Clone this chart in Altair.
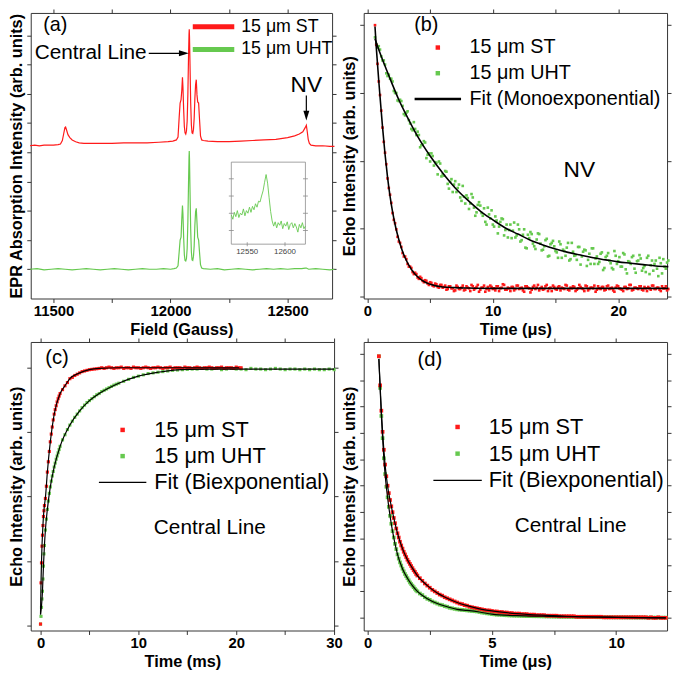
import altair as alt
import pandas as pd

FONT = "Liberation Sans"
RED = "#ff1a1a"
GREEN = "#66c94f"
INK = "#333333"
GRAY = "#8a8a8a"
ST = "15 μm ST"
UHT = "15 μm UHT"
FIT_MONO = "Fit (Monoexponential)"
FIT_BI = "Fit (Biexponential)"


def sample_times(start, step, n):
    return [round(start + step * i, 4) for i in range(n)]


# ---------------- (a) EPR absorption spectra ----------------
a_field_st = [11400, 11420, 11440, 11460, 11480, 11500, 11520, 11530, 11538, 11544,
              11549, 11552, 11556, 11562, 11570, 11580, 11595, 11610, 11630, 11660,
              11700, 11750, 11800, 11850, 11900, 11950, 11990, 12010, 12025, 12032,
              12037, 12041, 12045, 12048, 12051, 12053, 12056, 12059, 12062, 12065,
              12068, 12071, 12074, 12077, 12079, 12080, 12081, 12083, 12086, 12089,
              12092, 12095, 12098, 12101, 12104, 12107, 12110, 12113, 12116, 12120,
              12124, 12128, 12133, 12140, 12160, 12200, 12250, 12300, 12350, 12400,
              12450, 12500, 12530, 12550, 12565, 12575, 12580, 12584, 12588, 12593,
              12600, 12620, 12650, 12680, 12700]
a_int_st = [2.11, 2.12, 2.11, 2.12, 2.12, 2.12, 2.13, 2.14, 2.20, 2.32,
            2.42, 2.43, 2.38, 2.30, 2.25, 2.21, 2.18, 2.16, 2.15, 2.15,
            2.15, 2.15, 2.16, 2.16, 2.16, 2.17, 2.18, 2.19, 2.21, 2.26,
            2.60, 2.84, 2.90, 3.05, 3.28, 3.12, 2.74, 2.44, 2.33, 2.31,
            2.36, 2.53, 2.98, 3.66, 4.02, 4.10, 3.98, 3.55, 2.86, 2.47,
            2.33, 2.32, 2.39, 2.58, 2.92, 3.15, 3.24, 2.98, 2.86, 2.84,
            2.55, 2.28, 2.21, 2.20, 2.19, 2.18, 2.18, 2.19, 2.20, 2.21,
            2.22, 2.25, 2.28, 2.31, 2.35, 2.42, 2.46, 2.35, 2.22, 2.15,
            2.12, 2.11, 2.11, 2.10, 2.10]
a_field_uht = [11400, 11430, 11460, 11490, 11520, 11550, 11580, 11610, 11640, 11670,
               11700, 11730, 11760, 11790, 11820, 11850, 11880, 11910, 11940, 11970,
               12000, 12015, 12025, 12032, 12037, 12041, 12045, 12048, 12051, 12053,
               12056, 12059, 12062, 12065, 12068, 12071, 12074, 12077, 12079, 12080,
               12081, 12083, 12086, 12089, 12092, 12095, 12098, 12101, 12104, 12107,
               12110, 12113, 12116, 12120, 12124, 12128, 12133, 12140, 12170, 12200,
               12230, 12260, 12290, 12320, 12350, 12380, 12410, 12440, 12470, 12500,
               12530, 12560, 12575, 12580, 12590, 12620, 12650, 12680, 12700]
a_int_uht = [0.00, 0.01, -0.01, 0.00, 0.01, 0.00, -0.01, 0.00, 0.01, 0.00,
             -0.01, 0.00, 0.01, 0.00, -0.01, 0.00, 0.01, 0.00, 0.00, 0.01,
             0.00, 0.01, 0.02, 0.06, 0.30, 0.50, 0.55, 0.85, 1.09, 0.95,
             0.55, 0.25, 0.15, 0.14, 0.18, 0.35, 0.80, 1.50, 1.92, 2.02,
             1.90, 1.40, 0.70, 0.30, 0.16, 0.15, 0.22, 0.40, 0.75, 0.98,
             1.04, 0.80, 0.55, 0.50, 0.28, 0.08, 0.02, 0.01, 0.00, 0.01,
             -0.01, 0.00, 0.01, 0.00, -0.01, 0.00, 0.01, 0.00, 0.01, 0.00,
             0.01, 0.01, 0.02, 0.02, 0.00, 0.01, 0.00, -0.01, 0.00]
inset_start, inset_step = 12529, 2
inset_int = [1.70, 1.45, 1.85, 1.60, 1.95, 1.55, 1.80, 1.70, 2.05, 1.65,
             1.95, 1.80, 2.15, 1.85, 2.20, 2.00, 2.35, 2.15, 2.50, 2.45,
             2.80, 3.10, 3.60, 4.05, 3.55, 2.70, 1.90, 1.35, 1.05, 1.30,
             0.95, 1.25, 1.10, 1.35, 0.90, 1.20, 1.05, 1.30, 0.85, 1.15,
             1.25, 0.95, 1.20, 1.00, 0.70, 1.15, 0.95, 1.25, 0.90, 1.05]
inset_domain_x = [12529, 12627]
inset_domain_y = [0, 4.77]
inset_xticks = [12550, 12600]
inset_xlabels = ["12550", "12600"]
inset_yticks = [0.8, 1.8, 2.8, 3.8]

# ---------------- (b) NV echo decay ----------------
b_start, b_step = 0.6, 0.2
b_st = [4.00, 3.43, 2.97, 2.49, 2.12, 1.74, 1.50, 1.23, 1.08, 0.88,
        0.79, 0.64, 0.59, 0.48, 0.44, 0.36, 0.35, 0.28, 0.29, 0.23,
        0.24, 0.19, 0.21, 0.16, 0.19, 0.14, 0.17, 0.13, 0.16, 0.11,
        0.15, 0.12, 0.09, 0.14, 0.11, 0.16, 0.10, 0.13,
        0.08, 0.15, 0.12, 0.17, 0.10, 0.13, 0.07, 0.14, 0.16, 0.11,
        0.09, 0.15, 0.12, 0.18, 0.10, 0.13, 0.08, 0.14, 0.11, 0.16,
        0.12, 0.09, 0.15, 0.13, 0.06, 0.14, 0.11, 0.17, 0.12, 0.10,
        0.15, 0.08, 0.13, 0.16, 0.11, 0.14, 0.09, 0.12, 0.17, 0.10,
        0.13, 0.15, 0.08, 0.12, 0.14, 0.11, 0.16, 0.09, 0.13, 0.12,
        0.07, 0.15, 0.11, 0.14, 0.10, 0.16, 0.12, 0.09, 0.13, 0.15,
        0.11, 0.08, 0.14, 0.12, 0.17, 0.10, 0.13, 0.11, 0.15, 0.09,
        0.12, 0.14, 0.10, 0.16, 0.11, 0.13, 0.08, 0.12, 0.15, 0.11]
b_uht = [3.82, 3.67, 3.64, 3.48, 3.42, 3.25, 3.21, 3.17, 3.00, 2.89,
         2.90, 2.81, 2.67, 2.73, 2.55, 2.45, 2.47, 2.43, 2.20, 2.24,
         2.27, 2.09, 1.99, 2.07, 1.98, 1.80, 1.96, 1.80, 1.85, 1.66,
         1.69, 1.54, 1.70, 1.60, 1.46, 1.63, 1.37, 1.45, 1.37, 1.46,
         1.19, 1.35, 1.34, 1.19, 1.10, 1.31, 1.15, 1.06, 1.18, 0.93,
         1.10, 1.14, 0.98, 0.87, 1.06, 0.97, 0.87, 1.06, 0.81, 0.91,
         0.72, 0.91, 0.95, 0.78, 0.70, 0.93, 0.78, 0.69, 0.83, 0.59,
         0.77, 0.82, 0.67, 0.57, 0.77, 0.69, 0.60, 0.79, 0.55, 0.66,
         0.61, 0.73, 0.47, 0.66, 0.68, 0.54, 0.48, 0.71, 0.56, 0.48,
         0.63, 0.39, 0.58, 0.64, 0.49, 0.40, 0.60, 0.52, 0.44, 0.64,
         0.40, 0.52, 0.48, 0.60, 0.35, 0.53, 0.56, 0.42, 0.36, 0.60,
         0.46, 0.38, 0.53, 0.30, 0.49, 0.55, 0.41, 0.53]
# interleaved second pass of acquisitions (t = 0.7, 0.9, ...)
b_start2 = 0.7
b_st2 = [3.71, 3.17, 2.74, 2.28, 1.95, 1.60, 1.38, 1.13, 0.99, 0.81,
         0.73, 0.59, 0.55, 0.44, 0.42, 0.33, 0.33, 0.26, 0.27, 0.21,
         0.23, 0.17, 0.20, 0.15, 0.18, 0.13, 0.17,
         0.14, 0.10, 0.15, 0.12, 0.08, 0.16, 0.11, 0.13, 0.09, 0.15,
         0.12, 0.17, 0.10, 0.14, 0.07, 0.13, 0.16, 0.11, 0.09, 0.14,
         0.12, 0.15, 0.08, 0.13, 0.17, 0.10, 0.12, 0.14, 0.09, 0.16,
         0.11, 0.13, 0.07, 0.15, 0.12, 0.10, 0.16, 0.13, 0.09, 0.14,
         0.11, 0.17, 0.12, 0.08, 0.14, 0.10, 0.15, 0.13, 0.11, 0.16,
         0.09, 0.12, 0.14, 0.10, 0.17, 0.12, 0.08, 0.15, 0.11, 0.13,
         0.16, 0.10, 0.12, 0.14, 0.09, 0.15, 0.11, 0.13, 0.07, 0.16,
         0.12, 0.10, 0.14, 0.11, 0.17, 0.09, 0.13, 0.12, 0.15, 0.10,
         0.14, 0.08, 0.12, 0.16, 0.11, 0.13, 0.10, 0.15, 0.12, 0.09]
b_uht2 = [3.72, 3.69, 3.54, 3.48, 3.29, 3.27, 3.21, 3.03, 3.00, 2.88,
          2.88, 2.69, 2.71, 2.60, 2.47, 2.57, 2.38, 2.38, 2.23, 2.29,
          2.04, 2.11, 2.11, 1.93, 1.97, 1.99, 1.77, 1.78, 1.84, 1.59,
          1.73, 1.65, 1.54, 1.65, 1.41, 1.47, 1.49, 1.29, 1.51, 1.31,
          1.24, 1.39, 1.23, 1.30, 1.06, 1.21, 1.27, 1.03, 1.12, 1.03,
          1.15, 0.90, 1.06, 0.98, 0.86, 1.09, 0.90, 0.99, 0.83, 0.99,
          0.71, 0.86, 0.92, 0.74, 0.84, 0.92, 0.68, 0.74, 0.85, 0.60,
          0.79, 0.74, 0.65, 0.81, 0.57, 0.67, 0.72, 0.53, 0.79, 0.60,
          0.54, 0.73, 0.59, 0.69, 0.45, 0.63, 0.71, 0.48, 0.59, 0.51,
          0.65, 0.42, 0.60, 0.53, 0.42, 0.67, 0.48, 0.58, 0.44, 0.62,
          0.34, 0.51, 0.58, 0.41, 0.52, 0.61, 0.38, 0.45, 0.57, 0.33,
          0.53, 0.48, 0.41, 0.57, 0.34, 0.44, 0.50]
b_fit_st_t = [0.6, 0.7, 0.8, 0.9, 1.0, 1.2, 1.4, 1.6, 1.8, 2.0, 2.25, 2.5, 2.75,
              3.0, 3.5, 4.0, 4.5, 5.0, 6.0, 7.0, 8.0, 10, 12, 16, 20, 24]
b_fit_st = [3.98, 3.68, 3.43, 3.18, 2.95, 2.50, 2.10, 1.76, 1.48, 1.25, 1.02, 0.84, 0.69,
            0.57, 0.40, 0.29, 0.22, 0.18, 0.14, 0.13, 0.125, 0.12, 0.12, 0.12, 0.12, 0.12]
b_fit_uht_t = [0.6, 1, 1.5, 2, 2.5, 3, 3.5, 4, 5, 6, 7, 8, 9, 10, 11, 12, 13, 14,
               15, 16, 17, 18, 19, 20, 21, 22, 23, 24]
b_fit_uht = [3.80, 3.59, 3.35, 3.12, 2.90, 2.71, 2.53, 2.36, 2.07, 1.82, 1.60, 1.42,
             1.26, 1.13, 1.01, 0.92, 0.83, 0.76, 0.70, 0.65, 0.61, 0.57, 0.54, 0.51,
             0.49, 0.47, 0.45, 0.44]

# ---------------- (c) central line recovery (ms) ----------------
c_st_segments = [
    (0.0, 0.05, [0.02, 0.66, 0.97, 1.23, 1.40, 1.55, 1.69, 1.78, 1.86]),
    (0.5, 0.1, [1.97, 2.16, 2.38, 2.54, 2.70, 2.85, 2.97, 3.08, 3.19, 3.28,
                3.35, 3.41, 3.47, 3.52, 3.56, 3.60]),
    (2.25, 0.25, [3.66, 3.72, 3.77, 3.83, 3.85, 3.88, 3.90, 3.92, 3.94, 3.95,
                  3.96, 3.97, 3.975, 3.98, 3.985, 3.99]),
    (6.25, 0.25, [4.00, 3.99, 4.00, 4.01, 4.00, 3.99, 4.00, 4.00, 4.01, 3.99,
                  4.00, 4.00, 3.99, 4.01, 4.00, 4.00, 3.99, 4.00, 4.01, 4.00,
                  3.99, 4.00, 4.00, 4.01, 4.00, 3.99, 4.00, 4.00, 4.01, 3.99,
                  4.00, 4.00, 4.00, 3.99, 4.01, 4.00, 4.00, 3.99, 4.00, 4.01,
                  4.00, 3.99, 4.00, 4.00, 4.01, 4.00, 3.99, 4.00, 4.00, 4.01,
                  3.99, 4.00, 4.00, 4.00, 3.99, 4.01, 4.00, 4.00]),
]
c_uht_segments = [
    (0.0, 0.05, [0.02, 0.14, 0.28, 0.41, 0.53, 0.72, 0.92, 1.11, 1.24]),
    (0.5, 0.1, [1.48, 1.65, 1.80, 1.93, 2.05, 2.15, 2.24, 2.32, 2.39, 2.46,
                2.52, 2.58, 2.63, 2.68, 2.73, 2.78]),
    (2.25, 0.25, [2.88, 2.96, 3.04, 3.11, 3.17, 3.23, 3.28, 3.33, 3.38, 3.42,
                  3.46, 3.49, 3.52, 3.55, 3.58, 3.60, 3.63, 3.65, 3.67, 3.69,
                  3.71, 3.73, 3.745, 3.76]),
    (8.5, 0.5, [3.79, 3.82, 3.85, 3.87, 3.89, 3.91, 3.92, 3.93, 3.94, 3.95,
                3.96, 3.965, 3.97, 3.975, 3.98, 3.98, 3.99, 3.98, 3.98, 3.99,
                3.97, 3.98, 3.99, 3.98, 3.98, 3.97, 3.99, 3.98, 3.98, 3.97,
                3.98, 3.99, 3.98, 3.97, 3.98, 3.98, 3.97, 3.98, 3.97, 3.98,
                3.97, 3.97, 3.98, 3.97]),
]
c_fit_st_t = [0, 0.03, 0.06, 0.1, 0.15, 0.2, 0.3, 0.4, 0.5, 0.7, 1.0, 1.4, 2.0, 2.5,
              3.0, 4.0, 5.0, 6.0, 8.0, 12.0, 16.0, 20.3]
c_fit_st = [0.17, 0.45, 0.72, 0.97, 1.23, 1.40, 1.69, 1.86, 1.98, 2.38, 2.85, 3.28,
            3.60, 3.72, 3.83, 3.92, 3.97, 3.99, 4.00, 4.00, 4.00, 4.00]
c_fit_uht_t = [0, 0.1, 0.2, 0.3, 0.4, 0.5, 0.7, 1.0, 1.4, 2.0, 3.0, 4.0, 5.0, 6.0,
               8.0, 10.0, 12.0, 15.0, 20.0, 25.0, 30.0]
c_fit_uht = [0.17, 0.30, 0.53, 0.92, 1.24, 1.48, 1.80, 2.15, 2.46, 2.78, 3.11, 3.33,
             3.49, 3.60, 3.76, 3.87, 3.93, 3.975, 3.98, 3.98, 3.98]

# ---------------- (d) central line decay (us) ----------------
d_st_segments = [
    (0.45, 0.05, [4.95, 4.40, 3.92, 3.52, 3.18, 2.90, 2.68, 2.50, 2.36, 2.23,
                  2.11, 2.00, 1.89, 1.79, 1.69, 1.60, 1.52, 1.44, 1.37, 1.31,
                  1.25, 1.20, 1.15, 1.10, 1.06, 1.02, 0.98, 0.94, 0.90, 0.87,
                  0.83, 0.80]),
    (2.1, 0.1, [0.75, 0.70, 0.65, 0.61, 0.57, 0.53, 0.50, 0.47, 0.44, 0.42,
                0.39, 0.37, 0.35, 0.33, 0.31, 0.29, 0.27, 0.26, 0.24, 0.23,
                0.21, 0.20, 0.19, 0.18, 0.17, 0.16, 0.15, 0.14, 0.14, 0.13,
                0.12, 0.12, 0.11, 0.11, 0.10, 0.10, 0.09, 0.09, 0.08, 0.08,
                0.08, 0.07, 0.07, 0.07, 0.06, 0.06, 0.06, 0.05, 0.05, 0.05,
                0.05, 0.04, 0.04, 0.04, 0.04, 0.04, 0.03, 0.03, 0.03, 0.03,
                0.03, 0.03, 0.03, 0.02, 0.02, 0.02, 0.02, 0.02, 0.02, 0.02,
                0.02, 0.02, 0.02, 0.02, 0.01, 0.01, 0.01, 0.01, 0.01, 0.01,
                0.01, 0.01, 0.01, 0.01, 0.01, 0.01, 0.01, 0.01, 0.01, 0.01,
                0.01, 0.01, 0.00, 0.01, 0.00, 0.00, 0.01, 0.00, 0.00, 0.00]),
]
d_uht_segments = [
    (0.45, 0.05, [4.95, 4.35, 3.82, 3.40, 3.02, 2.72, 2.48, 2.28, 2.10, 1.93,
                  1.78, 1.64, 1.52, 1.40, 1.30, 1.20, 1.12, 1.05, 0.99, 0.93,
                  0.88, 0.83, 0.79, 0.75, 0.71, 0.67, 0.64, 0.61, 0.58, 0.55,
                  0.52, 0.50]),
    (2.1, 0.1, [0.46, 0.43, 0.39, 0.36, 0.34, 0.31, 0.29, 0.27, 0.25, 0.24,
                0.22, 0.21, 0.19, 0.18, 0.17, 0.16, 0.155, 0.15, 0.145, 0.14,
                0.135, 0.13, 0.125, 0.12, 0.11, 0.10, 0.095, 0.085, 0.08, 0.07,
                0.065, 0.06, 0.058, 0.055, 0.05, 0.048, 0.045, 0.043, 0.041, 0.04,
                0.038, 0.036, 0.035, 0.033, 0.032, 0.031, 0.030, 0.030, 0.029, 0.028,
                0.027, 0.026, 0.025, 0.024, 0.023, 0.022, 0.021, 0.020, 0.020, 0.019,
                0.018, 0.018, 0.017, 0.016, 0.016, 0.015, 0.015, 0.014, 0.014, 0.013,
                0.013, 0.012, 0.012, 0.011, 0.011, 0.010, 0.010, 0.010, 0.009, 0.009,
                0.009, 0.008, 0.008, 0.008, 0.007, 0.007, 0.007, 0.006, 0.006, 0.006,
                0.006, 0.005, 0.005, 0.005, 0.005, 0.004, 0.004, 0.004, 0.004, 0.004]),
]
d_fit_t = [0.45, 0.5, 0.55, 0.6, 0.65, 0.7, 0.8, 0.9, 1.0, 1.2, 1.4, 1.6, 1.8, 2.0,
           2.4, 2.8, 3.2, 3.6, 4.0, 4.5, 5.0, 6.0, 7.0, 8.0, 10.0, 12.0]
d_fit_st = [4.90, 4.40, 3.92, 3.52, 3.18, 2.90, 2.50, 2.23, 2.00, 1.60, 1.31, 1.10,
            0.94, 0.80, 0.61, 0.47, 0.37, 0.29, 0.23, 0.17, 0.13, 0.08, 0.05, 0.03,
            0.01, 0.00]
d_fit_uht = [4.90, 4.35, 3.82, 3.40, 3.02, 2.72, 2.28, 1.93, 1.64, 1.20, 0.93, 0.75,
             0.61, 0.50, 0.36, 0.27, 0.21, 0.16, 0.14, 0.11, 0.07, 0.04, 0.03, 0.02,
             0.01, 0.00]

# ---------------- layout constants ----------------
W_A, W_OTHER = 305, 307
H_TOP, H_BOT = 289, 292
IN_X0, IN_X1, IN_Y0, IN_Y1 = 203, 278, 151, 234


def frame_axes(xticks, label_every, xtitle, yticks, ytitle, xfmt="~g"):
    bottom = alt.Axis(orient="bottom", values=xticks, format=xfmt, title=xtitle,
                      labelExpr=f"datum.value % {label_every} === 0 ? datum.label : ''")
    top = alt.Axis(orient="top", values=xticks, labels=False, title=None)
    left = alt.Axis(orient="left", values=yticks, labels=False, title=ytitle, titlePadding=2)
    right = alt.Axis(orient="right", values=yticks, labels=False, title=None)
    return bottom, top, left, right


def seg_frame(segments, name):
    t, v = [], []
    for start, step, vals in segments:
        t += sample_times(start, step, len(vals))
        v += vals
    return pd.DataFrame({"time": t, "intensity": v, "sample": name})


def line_legend(x, y, size, offset, rowpad, half, sw):
    return alt.Legend(title=None, orient="none", legendX=x, legendY=y, padding=0,
                      labelFont=FONT, labelFontSize=size, labelColor="black",
                      labelOffset=offset, rowPadding=rowpad, symbolSize=100,
                      symbolType=f"M-{half},0H{half}", symbolStrokeWidth=sw,
                      labelLimit=500)


def data_fit_legend(fit_name, x, y, size, offset, rowpad, half, sw):
    line_path = f"M-{half},0H{half}"
    square = "M-0.45,-0.45H0.45V0.45H-0.45Z"
    return alt.Legend(
        title=None, orient="none", legendX=x, legendY=y, padding=0,
        labelFont=FONT, labelFontSize=size, labelColor="black", labelOffset=offset,
        rowPadding=rowpad, symbolSize=100, labelLimit=500, symbolStrokeWidth=sw,
        symbolType={"expr": f"datum.value === '{fit_name}' ? '{line_path}' : '{square}'"},
        symbolStrokeColor={"expr": f"datum.value === '{fit_name}' ? 'black' : 'transparent'"},
    )


def notes_layer(df, xs, ys, xfield, yfield, size):
    return alt.Chart(df).mark_text(font=FONT, fontSize=size, color="black",
                                   align="center", baseline="middle").encode(
        x=alt.X(f"{xfield}:Q", scale=xs, axis=None),
        y=alt.Y(f"{yfield}:Q", scale=ys, axis=None),
        text="text:N")


# ================= panel (a) =================
df_a = pd.DataFrame({
    "field": a_field_st + a_field_uht,
    "intensity": a_int_st + a_int_uht,
    "sample": [ST] * len(a_field_st) + [UHT] * len(a_field_uht),
})
xs_a = alt.Scale(domain=[11403, 12690], nice=False, zero=False)
ys_a = alt.Scale(domain=[-0.5, 4.38], nice=False, zero=False)
xb, xt, yl, yr = frame_axes([11500, 11750, 12000, 12250, 12500], 500, "Field (Gauss)",
                            [0, 0.5, 1, 1.5, 2, 2.5, 3, 3.5, 4],
                            "EPR Absorption Intensity (arb. units)", xfmt="d")
spectra = alt.Chart(df_a).mark_line(strokeWidth=1.2).encode(
    x=alt.X("field:Q", scale=xs_a, axis=xb),
    y=alt.Y("intensity:Q", scale=ys_a, axis=yl),
    color=alt.Color("sample:N", scale=alt.Scale(domain=[ST, UHT], range=[RED, GREEN]),
                    legend=line_legend(176, 5, 18, 19, 3, 4.2, 5)),
)
mirror_a = alt.Chart(df_a).mark_point(opacity=0).encode(
    x=alt.X("field:Q", scale=xs_a, axis=xt), y=alt.Y("intensity:Q", scale=ys_a, axis=yr))
a_notes = pd.DataFrame({"field": [11508], "intensity": [4.18], "text": ["(a)"]})
a_notes2 = pd.DataFrame({"field": [11659], "intensity": [3.69], "text": ["Central Line"]})
a_notes3 = pd.DataFrame({"field": [12580], "intensity": [3.15], "text": ["NV"]})
a_arrows = pd.DataFrame({"x0": [11907, 12580], "x1": [12047, 12580],
                         "y0": [3.69, 2.97], "y1": [3.69, 2.63]})
arrow_rules = alt.Chart(a_arrows).mark_rule(color="black", strokeWidth=1.2).encode(
    x=alt.X("x0:Q", scale=xs_a, axis=None), x2="x1:Q",
    y=alt.Y("y0:Q", scale=ys_a, axis=None), y2="y1:Q")
head_r = alt.Chart(pd.DataFrame({"x": [12057], "y": [3.69]})).mark_point(
    shape="M-1,-0.6L1,0L-1,0.6Z", filled=True, size=100, color="black", opacity=1).encode(
    x=alt.X("x:Q", scale=xs_a, axis=None), y=alt.Y("y:Q", scale=ys_a, axis=None))
head_d = alt.Chart(pd.DataFrame({"x": [12580], "y": [2.625]})).mark_point(
    shape="M-0.6,-1L0,1L0.6,-1Z", filled=True, size=100, color="black", opacity=1).encode(
    x=alt.X("x:Q", scale=xs_a, axis=None), y=alt.Y("y:Q", scale=ys_a, axis=None))
main_a = alt.layer(
    spectra, mirror_a, arrow_rules, head_r, head_d,
    notes_layer(a_notes, xs_a, ys_a, "field", "intensity", 20),
    notes_layer(a_notes2, xs_a, ys_a, "field", "intensity", 21),
    notes_layer(a_notes3, xs_a, ys_a, "field", "intensity", 23),
)

# ---- inset (own scales placed inside panel a) ----
df_in = pd.DataFrame({"field": sample_times(inset_start, inset_step, len(inset_int)),
                      "intensity": inset_int})
xs_in = alt.Scale(domain=inset_domain_x, range=[IN_X0, IN_X1], nice=False, zero=False)
ys_in = alt.Scale(domain=inset_domain_y, range=[IN_Y1, IN_Y0], nice=False, zero=False)
in_box = pd.DataFrame({"x0": [inset_domain_x[0]], "x1": [inset_domain_x[1]],
                       "y0": [inset_domain_y[0]], "y1": [inset_domain_y[1]]})
in_rect = alt.Chart(in_box).mark_rect(fill="white", stroke=GRAY, strokeWidth=0.8).encode(
    x=alt.X("x0:Q", scale=xs_in, axis=None), x2="x1:Q",
    y=alt.Y("y0:Q", scale=ys_in, axis=None), y2="y1:Q")
in_line = alt.Chart(df_in).mark_line(color=GREEN, strokeWidth=0.9).encode(
    x=alt.X("field:Q", scale=xs_in, axis=None),
    y=alt.Y("intensity:Q", scale=ys_in, axis=None))
df_in_xt = pd.DataFrame({"field": inset_xticks, "base": [inset_domain_y[0]] * len(inset_xticks),
                         "label": inset_xlabels})
in_xticks = alt.Chart(df_in_xt).mark_tick(orient="vertical", size=4, thickness=0.8,
                                          color=GRAY, opacity=1).encode(
    x=alt.X("field:Q", scale=xs_in, axis=None), y=alt.Y("base:Q", scale=ys_in, axis=None))
in_xlabels = alt.Chart(df_in_xt).mark_text(font=FONT, fontSize=8, color="#444444",
                                           baseline="top", dy=4).encode(
    x=alt.X("field:Q", scale=xs_in, axis=None), y=alt.Y("base:Q", scale=ys_in, axis=None),
    text="label:N")
df_in_yt = pd.DataFrame({
    "edge": [inset_domain_x[0]] * len(inset_yticks) + [inset_domain_x[1]] * len(inset_yticks),
    "value": inset_yticks + inset_yticks})
in_yticks = alt.Chart(df_in_yt).mark_tick(orient="horizontal", size=5, thickness=0.8,
                                          color=GRAY, opacity=1).encode(
    x=alt.X("edge:Q", scale=xs_in, axis=None), y=alt.Y("value:Q", scale=ys_in, axis=None))
inset_a = alt.layer(in_rect, in_line, in_xticks, in_yticks, in_xlabels)
panel_a = alt.layer(main_a, inset_a).resolve_scale(
    x="independent", y="independent").properties(width=W_A, height=H_TOP)

# ================= panel (b) =================
df_b = pd.concat([
    pd.DataFrame({"time": sample_times(b_start, b_step, len(b_uht)), "intensity": b_uht,
                  "sample": UHT}),
    pd.DataFrame({"time": sample_times(b_start2, b_step, len(b_uht2)), "intensity": b_uht2,
                  "sample": UHT}),
    pd.DataFrame({"time": sample_times(b_start, b_step, len(b_st)), "intensity": b_st,
                  "sample": ST}),
    pd.DataFrame({"time": sample_times(b_start2, b_step, len(b_st2)), "intensity": b_st2,
                  "sample": ST}),
])
df_b_fit = pd.DataFrame({"time": b_fit_st_t + b_fit_uht_t, "intensity": b_fit_st + b_fit_uht,
                         "curve": ["st"] * len(b_fit_st) + ["uht"] * len(b_fit_uht)})
xs_b = alt.Scale(domain=[-0.3, 23.9], nice=False, zero=False)
ys_b = alt.Scale(domain=[-0.03, 4.18], nice=False, zero=False)
xb, xt, yl, yr = frame_axes([0, 5, 10, 15, 20], 10, "Time (μs)", [0, 1, 2, 3, 4],
                            "Echo Intensity (arb. units)")
pts_b = alt.Chart(df_b).mark_square(size=7, opacity=1).encode(
    x=alt.X("time:Q", scale=xs_b, axis=xb),
    y=alt.Y("intensity:Q", scale=ys_b, axis=yl),
    color=alt.Color("sample:N",
                    scale=alt.Scale(domain=[ST, UHT, FIT_MONO], range=[RED, GREEN, "black"]),
                    legend=data_fit_legend(FIT_MONO, 65, 25, 20, 22, 6, 4.7, 2.5)),
)
fit_b = alt.Chart(df_b_fit).mark_line(color="black", strokeWidth=1.6, interpolate="monotone").encode(
    x=alt.X("time:Q", scale=xs_b, axis=None), y=alt.Y("intensity:Q", scale=ys_b, axis=None),
    detail="curve:N")
mirror_b = alt.Chart(df_b_fit).mark_point(opacity=0).encode(
    x=alt.X("time:Q", scale=xs_b, axis=xt), y=alt.Y("intensity:Q", scale=ys_b, axis=yr))
b_notes = pd.DataFrame({"time": [4.69], "intensity": [4.0], "text": ["(b)"]})
b_notes2 = pd.DataFrame({"time": [16.9], "intensity": [1.87], "text": ["NV"]})
panel_b = alt.layer(
    pts_b, fit_b, mirror_b,
    notes_layer(b_notes, xs_b, ys_b, "time", "intensity", 20),
    notes_layer(b_notes2, xs_b, ys_b, "time", "intensity", 23),
).properties(width=W_OTHER, height=H_TOP)

# ================= panel (c) =================
df_c = pd.concat([seg_frame(c_uht_segments, UHT), seg_frame(c_st_segments, ST)])
df_c_fit = pd.DataFrame({"time": c_fit_st_t + c_fit_uht_t, "intensity": c_fit_st + c_fit_uht,
                         "curve": ["st"] * len(c_fit_st) + ["uht"] * len(c_fit_uht)})
xs_c = alt.Scale(domain=[-1, 30], nice=False, zero=False)
ys_c = alt.Scale(domain=[-0.08, 4.4], nice=False, zero=False)
xb, xt, yl, yr = frame_axes([0, 5, 10, 15, 20, 25, 30], 10, "Time (ms)", [0, 1, 2, 3, 4],
                            "Echo Intensity (arb. units)")
pts_c = alt.Chart(df_c).mark_square(size=10, opacity=1).encode(
    x=alt.X("time:Q", scale=xs_c, axis=xb),
    y=alt.Y("intensity:Q", scale=ys_c, axis=yl),
    color=alt.Color("sample:N",
                    scale=alt.Scale(domain=[ST, UHT, FIT_BI], range=[RED, GREEN, "black"]),
                    legend=data_fit_legend(FIT_BI, 82, 78, 22, 21, 4.5, 4.8, 1.3)),
)
fit_c = alt.Chart(df_c_fit).mark_line(color="black", strokeWidth=1.2, interpolate="monotone").encode(
    x=alt.X("time:Q", scale=xs_c, axis=None), y=alt.Y("intensity:Q", scale=ys_c, axis=None),
    detail="curve:N")
mirror_c = alt.Chart(df_c_fit).mark_point(opacity=0).encode(
    x=alt.X("time:Q", scale=xs_c, axis=xt), y=alt.Y("intensity:Q", scale=ys_c, axis=yr))
c_notes = pd.DataFrame({"time": [1.68], "intensity": [4.15], "text": ["(c)"]})
c_notes2 = pd.DataFrame({"time": [17.3], "intensity": [1.51], "text": ["Central Line"]})
panel_c = alt.layer(
    pts_c, fit_c, mirror_c,
    notes_layer(c_notes, xs_c, ys_c, "time", "intensity", 20.5),
    notes_layer(c_notes2, xs_c, ys_c, "time", "intensity", 21),
).properties(width=W_OTHER, height=H_BOT)

# ================= panel (d) =================
df_d = pd.concat([seg_frame(d_uht_segments, UHT), seg_frame(d_st_segments, ST)])
df_d_fit = pd.DataFrame({"time": d_fit_t + d_fit_t, "intensity": d_fit_st + d_fit_uht,
                         "curve": ["st"] * len(d_fit_t) + ["uht"] * len(d_fit_t)})
xs_d = alt.Scale(domain=[-0.16, 12.05], nice=False, zero=False)
ys_d = alt.Scale(domain=[-0.24, 5.22], nice=False, zero=False)
xb, xt, yl, yr = frame_axes([0, 2.5, 5, 7.5, 10], 5, "Time (μs)",
                            [0, 0.5, 1, 1.5, 2, 2.5, 3, 3.5, 4, 4.5, 5],
                            "Echo Intensity (arb. units)")
pts_d = alt.Chart(df_d).mark_square(size=14, opacity=1).encode(
    x=alt.X("time:Q", scale=xs_d, axis=xb),
    y=alt.Y("intensity:Q", scale=ys_d, axis=yl),
    color=alt.Color("sample:N",
                    scale=alt.Scale(domain=[ST, UHT, FIT_BI], range=[RED, GREEN, "black"]),
                    legend=data_fit_legend(FIT_BI, 84, 75, 22, 20.5, 5, 4.9, 1.3)),
)
fit_d = alt.Chart(df_d_fit).mark_line(color="black", strokeWidth=1.2, interpolate="monotone").encode(
    x=alt.X("time:Q", scale=xs_d, axis=None), y=alt.Y("intensity:Q", scale=ys_d, axis=None),
    detail="curve:N")
mirror_d = alt.Chart(df_d_fit).mark_point(opacity=0).encode(
    x=alt.X("time:Q", scale=xs_d, axis=xt), y=alt.Y("intensity:Q", scale=ys_d, axis=yr))
d_notes = pd.DataFrame({"time": [2.5], "intensity": [4.87], "text": ["(d)"]})
d_notes2 = pd.DataFrame({"time": [8.17], "intensity": [1.73], "text": ["Central Line"]})
panel_d = alt.layer(
    pts_d, fit_d, mirror_d,
    notes_layer(d_notes, xs_d, ys_d, "time", "intensity", 20.5),
    notes_layer(d_notes2, xs_d, ys_d, "time", "intensity", 21),
).properties(width=W_OTHER, height=H_BOT)

chart = alt.concat(
    panel_a, panel_b, panel_c, panel_d,
    columns=2, align="each", bounds="flush", spacing={"row": 44, "column": 30},
).resolve_scale(color="independent").resolve_legend(color="independent").properties(
    padding={"left": 0, "top": -4, "right": 0, "bottom": 0}
).configure_view(stroke=INK, strokeWidth=1).configure_axis(
    domain=False, grid=False, tickColor=INK, tickSize=4, tickWidth=1,
    labelFont=FONT, labelFontSize=15, labelFontWeight="bold", labelColor="black",
    labelPadding=1, labelFlush=False, labelOverlap=False,
    titleFont=FONT, titleFontSize=16.5, titleFontWeight="bold", titleColor="black",
    titlePadding=3,
)

chart.save("out.html", embed_options={"renderer": "svg", "actions": False})
